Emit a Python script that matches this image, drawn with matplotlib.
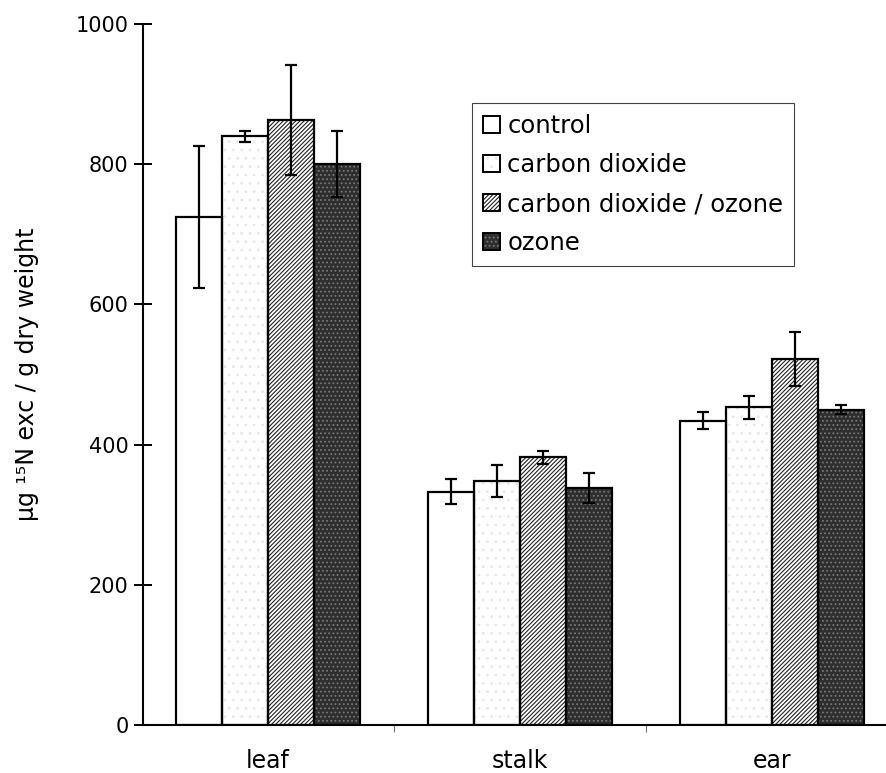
import numpy as np
import matplotlib
matplotlib.use("Agg")
import matplotlib.pyplot as plt
from matplotlib.patches import Patch

plt.rcParams['font.family'] = ['DejaVu Sans']
plt.rcParams['hatch.linewidth'] = 0.8

# data
organs = ['leaf', 'stalk', 'ear']
treatments = ['control', 'carbon dioxide', 'carbon dioxide / ozone', 'ozone']
control = [725, 333, 434]
control_err = [101, 18, 12]
co2 = [840, 348, 453]
co2_err = [8, 23, 16]
co2_o3 = [863, 382, 522]
co2_o3_err = [79, 9, 38]
ozone = [800, 338, 450]
ozone_err = [47, 22, 6]

values = [control, co2, co2_o3, ozone]
errors = [control_err, co2_err, co2_o3_err, ozone_err]

# fill colour, hatch, hatch colour for each treatment
styles = [
    ('white', None, 'white'),
    ('white', '..', '#e8e8e8'),
    ('white', '////////', '#222222'),
    ('#2e2e2e', '....', '#777777'),
]

fig = plt.figure(figsize=(8.86, 7.73), dpi=100)
ax = fig.add_axes([143 / 886, 48 / 773, 743 / 886, 701 / 773])

x = np.arange(len(organs))
w = 0.182
handles = []
for i, (vals, errs) in enumerate(zip(values, errors)):
    fc, hatch, hc = styles[i]
    pos = x + (i - 1.5) * w
    ax.bar(pos, vals, w, color=fc, linewidth=0, zorder=2)
    if hatch:
        ax.bar(pos, vals, w, color='none', edgecolor=hc, hatch=hatch,
               linewidth=0, zorder=2.5)
    ax.bar(pos, vals, w, fill=False, edgecolor='black', linewidth=1.6, zorder=3)
    ax.errorbar(pos, vals, yerr=errs, fmt='none', ecolor='black',
                elinewidth=1.6, capsize=4.5, capthick=1.6, zorder=4)

    h = [Patch(facecolor=fc, linewidth=0)]
    if hatch:
        h.append(Patch(facecolor='none', edgecolor=hc, hatch=hatch, linewidth=0))
    h.append(Patch(fill=False, edgecolor='black', linewidth=1.4))
    handles.append(tuple(h))

ax.set_ylim(0, 1000)
ax.set_xlim(-0.496, 2.452)
ax.set_yticks([0, 200, 400, 600, 800, 1000])
ax.tick_params(axis='y', direction='inout', length=13, width=1.4,
               labelsize=15, pad=4)
ax.set_xticks(x)
ax.set_xticklabels(organs)
ax.tick_params(axis='x', which='major', length=0, labelsize=17, pad=17)
ax.set_xticks([0.5, 1.5], minor=True)
ax.tick_params(axis='x', which='minor', direction='out', length=5, width=0.8,
               color='#777777')

for s in ['top', 'right']:
    ax.spines[s].set_visible(False)
for s in ['left', 'bottom']:
    ax.spines[s].set_linewidth(1.5)

ax.set_ylabel('µg ¹⁵N exc / g dry weight', fontsize=17)
ax.yaxis.set_label_coords(-0.14, 0.5)

leg = ax.legend(handles, treatments, loc='upper left',
                bbox_to_anchor=(0.443, 0.887), borderaxespad=0,
                fontsize=17.5, handlelength=0.7, handleheight=0.7,
                handletextpad=0.3, labelspacing=0.62, borderpad=0.45,
                fancybox=False, framealpha=1, edgecolor='#444444')
leg.get_frame().set_linewidth(0.8)

fig.savefig('out.png', dpi=100)
